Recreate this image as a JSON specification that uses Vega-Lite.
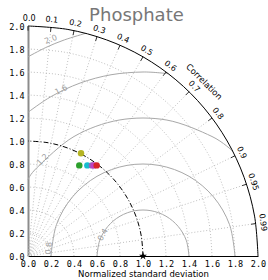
{
  "$schema": "https://vega.github.io/schema/vega-lite/v6.json",
  "width": 230,
  "height": 230,
  "autosize": {"type": "none"},
  "padding": {"left": 28, "top": 26, "right": 10, "bottom": 24},
  "config": {"view": {"stroke": null}, "font": "DejaVu Sans", "axis": {"labelOverlap": false, "labelFlush": false}, "axisX": {"labelOverlap": false}, "axisY": {"labelOverlap": false}, "axisQuantitative": {"labelOverlap": false}},
  "encoding": {
    "x": {"field": "x", "type": "quantitative", "scale": {"domain": [0, 2], "nice": false, "zero": false},
      "axis": {"values": [0,0.2,0.4,0.6,0.8,1.0,1.2,1.4,1.6,1.8,2.0], "format": ".1f", "grid": false, "ticks": false, "labelFlush": false, "labelOverlap": false, "domainColor": "#000000", "domainWidth": 1, "labelFont": "DejaVu Sans Mono", "labelFontSize": 8.5, "labelColor": "#000000", "labelPadding": 3, "title": "Normalized standard deviation", "titleFont": "DejaVu Sans", "titleFontSize": 8.5, "titleFontWeight": "normal", "titleColor": "#000000", "titlePadding": 2}},
    "y": {"field": "y", "type": "quantitative", "scale": {"domain": [0, 2], "nice": false, "zero": false},
      "axis": {"values": [0,0.2,0.4,0.6,0.8,1.0,1.2,1.4,1.6,1.8,2.0], "format": ".1f", "grid": false, "ticks": false, "labelFlush": false, "labelOverlap": false, "domainColor": "#8c8c8c", "domainWidth": 2, "labelFont": "DejaVu Sans Mono", "labelFontSize": 8.5, "labelColor": "#000000", "labelPadding": 4, "title": null}}
  },
  "datasets": {
    "grid": [
      {"g":0.2,"o":0,"x":0.2,"y":0},{"g":0.2,"o":1,"x":0.197,"y":0.035},{"g":0.2,"o":2,"x":0.188,"y":0.068},{"g":0.2,"o":3,"x":0.173,"y":0.1},{"g":0.2,"o":4,"x":0.153,"y":0.129},{"g":0.2,"o":5,"x":0.129,"y":0.153},{"g":0.2,"o":6,"x":0.1,"y":0.173},{"g":0.2,"o":7,"x":0.068,"y":0.188},{"g":0.2,"o":8,"x":0.035,"y":0.197},{"g":0.2,"o":9,"x":0,"y":0.2},
      {"g":0.4,"o":0,"x":0.4,"y":0},{"g":0.4,"o":1,"x":0.394,"y":0.069},{"g":0.4,"o":2,"x":0.376,"y":0.137},{"g":0.4,"o":3,"x":0.346,"y":0.2},{"g":0.4,"o":4,"x":0.306,"y":0.257},{"g":0.4,"o":5,"x":0.257,"y":0.306},{"g":0.4,"o":6,"x":0.2,"y":0.346},{"g":0.4,"o":7,"x":0.137,"y":0.376},{"g":0.4,"o":8,"x":0.069,"y":0.394},{"g":0.4,"o":9,"x":0,"y":0.4},
      {"g":0.6,"o":0,"x":0.6,"y":0},{"g":0.6,"o":1,"x":0.591,"y":0.104},{"g":0.6,"o":2,"x":0.564,"y":0.205},{"g":0.6,"o":3,"x":0.52,"y":0.3},{"g":0.6,"o":4,"x":0.46,"y":0.386},{"g":0.6,"o":5,"x":0.386,"y":0.46},{"g":0.6,"o":6,"x":0.3,"y":0.52},{"g":0.6,"o":7,"x":0.205,"y":0.564},{"g":0.6,"o":8,"x":0.104,"y":0.591},{"g":0.6,"o":9,"x":0,"y":0.6},
      {"g":0.8,"o":0,"x":0.8,"y":0},{"g":0.8,"o":1,"x":0.788,"y":0.139},{"g":0.8,"o":2,"x":0.752,"y":0.274},{"g":0.8,"o":3,"x":0.693,"y":0.4},{"g":0.8,"o":4,"x":0.613,"y":0.514},{"g":0.8,"o":5,"x":0.514,"y":0.613},{"g":0.8,"o":6,"x":0.4,"y":0.693},{"g":0.8,"o":7,"x":0.274,"y":0.752},{"g":0.8,"o":8,"x":0.139,"y":0.788},{"g":0.8,"o":9,"x":0,"y":0.8},
      {"g":1.2,"o":0,"x":1.2,"y":0},{"g":1.2,"o":1,"x":1.182,"y":0.208},{"g":1.2,"o":2,"x":1.128,"y":0.41},{"g":1.2,"o":3,"x":1.039,"y":0.6},{"g":1.2,"o":4,"x":0.919,"y":0.771},{"g":1.2,"o":5,"x":0.771,"y":0.919},{"g":1.2,"o":6,"x":0.6,"y":1.039},{"g":1.2,"o":7,"x":0.41,"y":1.128},{"g":1.2,"o":8,"x":0.208,"y":1.182},{"g":1.2,"o":9,"x":0,"y":1.2},
      {"g":1.4,"o":0,"x":1.4,"y":0},{"g":1.4,"o":1,"x":1.379,"y":0.243},{"g":1.4,"o":2,"x":1.316,"y":0.479},{"g":1.4,"o":3,"x":1.212,"y":0.7},{"g":1.4,"o":4,"x":1.072,"y":0.9},{"g":1.4,"o":5,"x":0.9,"y":1.072},{"g":1.4,"o":6,"x":0.7,"y":1.212},{"g":1.4,"o":7,"x":0.479,"y":1.316},{"g":1.4,"o":8,"x":0.243,"y":1.379},{"g":1.4,"o":9,"x":0,"y":1.4},
      {"g":1.6,"o":0,"x":1.6,"y":0},{"g":1.6,"o":1,"x":1.576,"y":0.278},{"g":1.6,"o":2,"x":1.504,"y":0.547},{"g":1.6,"o":3,"x":1.386,"y":0.8},{"g":1.6,"o":4,"x":1.226,"y":1.028},{"g":1.6,"o":5,"x":1.028,"y":1.226},{"g":1.6,"o":6,"x":0.8,"y":1.386},{"g":1.6,"o":7,"x":0.547,"y":1.504},{"g":1.6,"o":8,"x":0.278,"y":1.576},{"g":1.6,"o":9,"x":0,"y":1.6},
      {"g":1.8,"o":0,"x":1.8,"y":0},{"g":1.8,"o":1,"x":1.773,"y":0.313},{"g":1.8,"o":2,"x":1.691,"y":0.616},{"g":1.8,"o":3,"x":1.559,"y":0.9},{"g":1.8,"o":4,"x":1.379,"y":1.157},{"g":1.8,"o":5,"x":1.157,"y":1.379},{"g":1.8,"o":6,"x":0.9,"y":1.559},{"g":1.8,"o":7,"x":0.616,"y":1.691},{"g":1.8,"o":8,"x":0.313,"y":1.773},{"g":1.8,"o":9,"x":0,"y":1.8}
    ],
    "radial": [
      {"c":0.1,"x":0,"y":0,"x2":0.2,"y2":1.99},{"c":0.2,"x":0,"y":0,"x2":0.4,"y2":1.96},{"c":0.3,"x":0,"y":0,"x2":0.6,"y2":1.908},{"c":0.4,"x":0,"y":0,"x2":0.8,"y2":1.833},{"c":0.5,"x":0,"y":0,"x2":1.0,"y2":1.732},{"c":0.6,"x":0,"y":0,"x2":1.2,"y2":1.6},{"c":0.7,"x":0,"y":0,"x2":1.4,"y2":1.428},{"c":0.8,"x":0,"y":0,"x2":1.6,"y2":1.2},{"c":0.9,"x":0,"y":0,"x2":1.8,"y2":0.872},{"c":0.95,"x":0,"y":0,"x2":1.9,"y2":0.624},{"c":0.99,"x":0,"y":0,"x2":1.98,"y2":0.282}
    ],
    "rms": [
      {"R":0.4,"o":0,"x":1.4,"y":0},{"R":0.4,"o":1,"x":1.376,"y":0.137},{"R":0.4,"o":2,"x":1.306,"y":0.257},{"R":0.4,"o":3,"x":1.2,"y":0.346},{"R":0.4,"o":4,"x":1.069,"y":0.394},{"R":0.4,"o":5,"x":0.931,"y":0.394},{"R":0.4,"o":6,"x":0.8,"y":0.346},{"R":0.4,"o":7,"x":0.694,"y":0.257},{"R":0.4,"o":8,"x":0.624,"y":0.137},{"R":0.4,"o":9,"x":0.6,"y":0},
      {"R":0.8,"o":0,"x":1.8,"y":0},{"R":0.8,"o":1,"x":1.752,"y":0.274},{"R":0.8,"o":2,"x":1.613,"y":0.514},{"R":0.8,"o":3,"x":1.4,"y":0.693},{"R":0.8,"o":4,"x":1.139,"y":0.788},{"R":0.8,"o":5,"x":0.861,"y":0.788},{"R":0.8,"o":6,"x":0.6,"y":0.693},{"R":0.8,"o":7,"x":0.387,"y":0.514},{"R":0.8,"o":8,"x":0.248,"y":0.274},{"R":0.8,"o":9,"x":0.2,"y":0},
      {"R":1.2,"o":0,"x":1.78,"y":0.911},{"R":1.2,"o":1,"x":1.6,"y":1.039},{"R":1.2,"o":2,"x":1.208,"y":1.182},{"R":1.2,"o":3,"x":0.792,"y":1.182},{"R":1.2,"o":4,"x":0.4,"y":1.039},{"R":1.2,"o":5,"x":0.081,"y":0.771},{"R":1.2,"o":6,"x":0,"y":0.663},
      {"R":1.6,"o":0,"x":1.22,"y":1.585},{"R":1.6,"o":1,"x":1,"y":1.6},{"R":1.6,"o":2,"x":0.722,"y":1.576},{"R":1.6,"o":3,"x":0.453,"y":1.504},{"R":1.6,"o":4,"x":0.2,"y":1.386},{"R":1.6,"o":5,"x":0,"y":1.249},
      {"R":2.0,"o":0,"x":0.5,"y":1.936},{"R":2.0,"o":1,"x":0.316,"y":1.879},{"R":2.0,"o":2,"x":0.155,"y":1.813},{"R":2.0,"o":3,"x":0,"y":1.732}
    ],
    "refArc": [
      {"o":0,"x":1,"y":0},{"o":1,"x":0.985,"y":0.174},{"o":2,"x":0.94,"y":0.342},{"o":3,"x":0.866,"y":0.5},{"o":4,"x":0.766,"y":0.643},{"o":5,"x":0.643,"y":0.766},{"o":6,"x":0.5,"y":0.866},{"o":7,"x":0.342,"y":0.94},{"o":8,"x":0.174,"y":0.985},{"o":9,"x":0,"y":1}
    ],
    "outerArc": [
      {"o":0,"x":2,"y":0},{"o":1,"x":1.97,"y":0.347},{"o":2,"x":1.879,"y":0.684},{"o":3,"x":1.732,"y":1},{"o":4,"x":1.532,"y":1.286},{"o":5,"x":1.286,"y":1.532},{"o":6,"x":1,"y":1.732},{"o":7,"x":0.684,"y":1.879},{"o":8,"x":0.347,"y":1.97},{"o":9,"x":0,"y":2}
    ],
    "corrTicks": [
      {"t":"0.0","lx":0.01,"ly":2.06,"a":0,"x":0,"y":2,"x2":0,"y2":1.96},
      {"t":"0.1","lx":0.206,"ly":2.05,"a":5.7,"x":0.2,"y":1.99,"x2":0.196,"y2":1.95},
      {"t":"0.2","lx":0.412,"ly":2.019,"a":11.5,"x":0.4,"y":1.96,"x2":0.392,"y2":1.921},
      {"t":"0.3","lx":0.618,"ly":1.965,"a":17.5,"x":0.6,"y":1.908,"x2":0.588,"y2":1.87},
      {"t":"0.4","lx":0.824,"ly":1.888,"a":23.6,"x":0.8,"y":1.833,"x2":0.784,"y2":1.796},
      {"t":"0.5","lx":1.03,"ly":1.784,"a":30,"x":1.0,"y":1.732,"x2":0.98,"y2":1.697},
      {"t":"0.6","lx":1.236,"ly":1.648,"a":36.9,"x":1.2,"y":1.6,"x2":1.176,"y2":1.568},
      {"t":"0.7","lx":1.442,"ly":1.471,"a":44.4,"x":1.4,"y":1.428,"x2":1.372,"y2":1.4},
      {"t":"0.8","lx":1.648,"ly":1.236,"a":53.1,"x":1.6,"y":1.2,"x2":1.568,"y2":1.176},
      {"t":"0.9","lx":1.854,"ly":0.898,"a":64.2,"x":1.8,"y":0.872,"x2":1.764,"y2":0.854},
      {"t":"0.95","lx":1.957,"ly":0.643,"a":71.8,"x":1.9,"y":0.624,"x2":1.862,"y2":0.612},
      {"t":"0.99","lx":2.039,"ly":0.291,"a":81.9,"x":1.98,"y":0.282,"x2":1.94,"y2":0.276}
    ],
    "rmsLabels": [
      {"t":"0.4","x":0.655,"y":0.183,"a":-62},
      {"t":"0.8","x":0.185,"y":0.067,"a":-85},
      {"t":"1.2","x":0.13,"y":0.835,"a":-46},
      {"t":"1.6","x":0.29,"y":1.44,"a":-27},
      {"t":"2.0","x":0.2,"y":1.88,"a":-22}
    ],
    "ref": [{"x":1,"y":0}],
    "models": [
      {"m":"a","x":0.446,"y":0.788},
      {"m":"b","x":0.516,"y":0.788},
      {"m":"c","x":0.556,"y":0.788},
      {"m":"d","x":0.572,"y":0.788},
      {"m":"e","x":0.597,"y":0.788},
      {"m":"f","x":0.461,"y":0.893}
    ]
  },
  "layer": [
    {
      "data": {"name": "grid"},
      "mark": {"type": "line", "stroke": "#b0b0b0", "strokeWidth": 0.8, "strokeDash": [1, 2], "interpolate": "cardinal"},
      "encoding": {
        "detail": {"field": "g", "type": "nominal"},
        "order": {"field": "o", "type": "quantitative"}
      }
    },
    {
      "data": {"name": "radial"},
      "mark": {"type": "rule", "stroke": "#b0b0b0", "strokeWidth": 0.8, "strokeDash": [1, 2]},
      "encoding": {
        "x2": {"field": "x2"},
        "y2": {"field": "y2"}
      }
    },
    {
      "data": {"name": "rms"},
      "mark": {"type": "line", "stroke": "#a8a8a8", "strokeWidth": 1, "interpolate": "cardinal"},
      "encoding": {
        "detail": {"field": "R", "type": "nominal"},
        "order": {"field": "o", "type": "quantitative"}
      }
    },
    {
      "data": {"name": "refArc"},
      "mark": {"type": "line", "stroke": "#000000", "strokeWidth": 1, "strokeDash": [5, 2, 1, 2], "interpolate": "cardinal"},
      "encoding": {
        "order": {"field": "o", "type": "quantitative"}
      }
    },
    {
      "data": {"name": "outerArc"},
      "mark": {"type": "line", "stroke": "#000000", "strokeWidth": 1, "interpolate": "cardinal"},
      "encoding": {
        "order": {"field": "o", "type": "quantitative"}
      }
    },
    {
      "data": {"name": "corrTicks"},
      "mark": {"type": "rule", "stroke": "#000000", "strokeWidth": 0.8},
      "encoding": {
        "x2": {"field": "x2"},
        "y2": {"field": "y2"}
      }
    },
    {
      "data": {"name": "corrTicks"},
      "mark": {"type": "text", "fontSize": 8, "font": "DejaVu Sans", "color": "#000000", "align": "center", "baseline": "middle"},
      "encoding": {
        "x": {"field": "lx", "type": "quantitative"},
        "y": {"field": "ly", "type": "quantitative"},
        "text": {"field": "t"},
        "angle": {"field": "a", "type": "quantitative", "scale": null}
      }
    },
    {
      "data": {"values": [{"t": "Correlation", "x": 1.533, "y": 1.516}]},
      "mark": {"type": "text", "fontSize": 8.5, "font": "DejaVu Sans", "color": "#000000", "align": "center", "baseline": "middle", "angle": 45},
      "encoding": {
        "text": {"field": "t"}
      }
    },
    {
      "data": {"values": [{"t": "Phosphate", "x": 0.943, "y": 2.046}]},
      "mark": {"type": "text", "fontSize": 18, "font": "DejaVu Sans", "color": "#777777", "align": "center", "baseline": "alphabetic"},
      "encoding": {
        "text": {"field": "t"}
      }
    },
    {
      "data": {"name": "rmsLabels"},
      "mark": {"type": "text", "fontSize": 8, "font": "DejaVu Sans", "color": "#a0a0a0", "align": "center", "baseline": "middle"},
      "encoding": {
        "text": {"field": "t"},
        "angle": {"field": "a", "type": "quantitative", "scale": null}
      }
    },
    {
      "data": {"name": "ref"},
      "mark": {"type": "point", "shape": "M0,-1L0.2245,-0.309L0.951,-0.309L0.363,0.118L0.588,0.809L0,0.382L-0.588,0.809L-0.363,0.118L-0.951,-0.309L-0.2245,-0.309Z", "size": 70, "filled": true, "color": "#000000", "opacity": 1}
    },
    {
      "data": {"name": "models"},
      "mark": {"type": "circle", "size": 42, "opacity": 1},
      "encoding": {
        "color": {"field": "m", "type": "nominal", "legend": null, "scale": {"domain": ["a","b","c","d","e","f"], "range": ["#2ca02c", "#17becf", "#9467bd", "#c040c0", "#d62728", "#b5b422"]}}
      }
    }
  ]
}
